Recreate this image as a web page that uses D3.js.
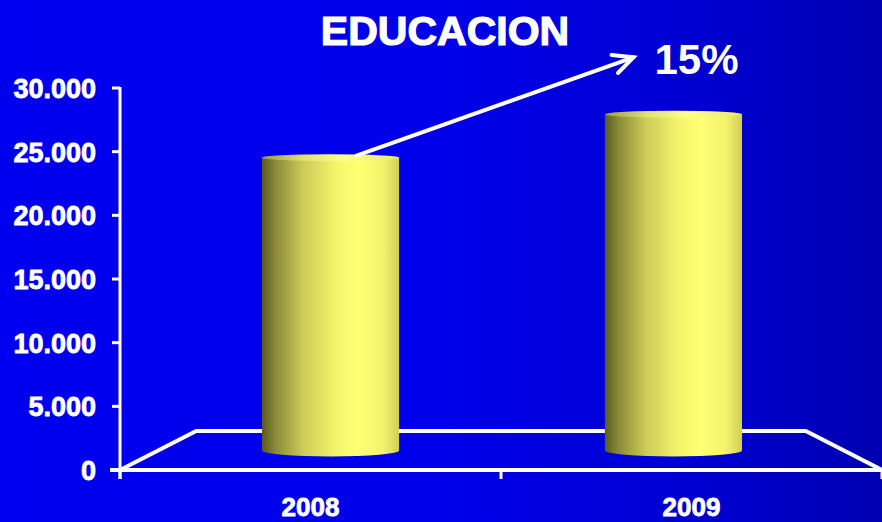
<!DOCTYPE html>
<html>
<head>
<meta charset="utf-8">
<script src="https://cdn.jsdelivr.net/npm/d3@7/dist/d3.min.js"></script>
<style>
  html, body { margin: 0; padding: 0; background: #0000e8; overflow: hidden; }
  svg { display: block; font-family: "Liberation Sans", Arial, sans-serif; }
</style>
</head>
<body>
<div id="chart"></div>
<script>
// Data
const years = ['2008', '2009'];
const values = [23000, 26400];
const yTicks = [0, 5000, 10000, 15000, 20000, 25000, 30000];
const title = 'EDUCACION';

const W = 882, H = 522;

// Layout of the pseudo-3D plot (front plane + receding floor)
const frontLeft = 120, frontRight = 882;
const yBottom = 470, yTop = 88;
const depth = 39;          // vertical offset of the back edge of the floor
const shrink = 0.8;        // back edge width relative to front edge
const barDepth = 0.5;      // bars stand halfway into the floor
const vpX = (frontLeft + frontRight) / 2;

const svg = d3.select('#chart').append('svg')
  .attr('width', W)
  .attr('height', H);

const defs = svg.append('defs');

// Background gradient (bright blue to slightly darker on the right)
const bg = defs.append('linearGradient')
  .attr('id', 'bg')
  .attr('x1', 0).attr('y1', 0).attr('x2', 1).attr('y2', 0);
[[0, '#0000f0'], [0.5, '#0000ea'], [0.8, '#0000d0'], [1, '#0000b0']].forEach(([o, c]) => {
  bg.append('stop').attr('offset', o).attr('stop-color', c);
});

// Cylinder shading
const cyl = defs.append('linearGradient')
  .attr('id', 'cyl')
  .attr('x1', 0).attr('y1', 0).attr('x2', 1).attr('y2', 0);
[[0, '#5a5a20'], [0.1, '#8a8a38'], [0.3, '#cccc58'], [0.55, '#f6f66c'],
 [0.7, '#ffff74'], [0.88, '#f4f46c'], [1, '#cfcf58']].forEach(([o, c]) => {
  cyl.append('stop').attr('offset', o).attr('stop-color', c);
});

const cylTop = defs.append('linearGradient')
  .attr('id', 'cylTop')
  .attr('x1', 0).attr('y1', 0).attr('x2', 1).attr('y2', 0);
[[0, '#9a9a48'], [0.3, '#e0e070'], [0.6, '#ffff88'], [1, '#e8e870']].forEach(([o, c]) => {
  cylTop.append('stop').attr('offset', o).attr('stop-color', c);
});

svg.append('rect')
  .attr('width', W)
  .attr('height', H)
  .attr('fill', 'url(#bg)');

// Scales
const x = d3.scaleBand()
  .domain(years)
  .range([frontLeft, frontRight])
  .paddingInner(0)
  .paddingOuter(0);

const y = d3.scaleLinear()
  .domain([0, 30000])
  .range([yBottom, yTop]);

const locale = d3.formatLocale({ decimal: ',', thousands: '.', grouping: [3], currency: ['', ''] });
const fmt = locale.format(',d');

// perspective helpers
const px = (xf, t) => vpX + (xf - vpX) * (1 - (1 - shrink) * t);
const dy = t => depth * t;

// Title
svg.append('text')
  .attr('x', 445)
  .attr('y', 45)
  .attr('text-anchor', 'middle')
  .attr('font-size', 41)
  .attr('font-weight', 'bold')
  .attr('fill', '#fff')
  .attr('stroke', '#fff')
  .attr('stroke-width', 1.2)
  .text(title);

// Floor outline
const floorG = svg.append('g')
  .attr('stroke', '#fff')
  .attr('stroke-width', 4)
  .attr('fill', 'none');

const backL = px(frontLeft, 1), backR = px(frontRight, 1);
floorG.append('path')
  .attr('stroke-linejoin', 'miter')
  .attr('d', d3.line()([
    [frontLeft, y(0)],
    [backL, y(0) - dy(1)],
    [backR, y(0) - dy(1)],
    [frontRight, y(0)]
  ]));
floorG.append('line')
  .attr('x1', frontLeft - 10).attr('x2', frontRight)
  .attr('y1', y(0)).attr('y2', y(0));

// Value axis (front plane)
const axisG = svg.append('g');
axisG.append('line')
  .attr('x1', frontLeft).attr('x2', frontLeft)
  .attr('y1', y(30000) - 1).attr('y2', y(0) + 9)
  .attr('stroke', '#fff')
  .attr('stroke-width', 3);

axisG.selectAll('line.tick')
  .data(yTicks)
  .join('line')
  .attr('class', 'tick')
  .attr('x1', frontLeft - 8).attr('x2', frontLeft)
  .attr('y1', d => y(d)).attr('y2', d => y(d))
  .attr('stroke', '#fff')
  .attr('stroke-width', 3);

axisG.selectAll('text')
  .data(yTicks)
  .join('text')
  .attr('x', 96)
  .attr('y', d => y(d) + 10)
  .attr('text-anchor', 'end')
  .attr('font-size', 27)
  .attr('font-weight', 'bold')
  .attr('fill', '#fff')
  .attr('stroke', '#fff')
  .attr('stroke-width', 0.8)
  .text(d => fmt(d));

// Category axis ticks and labels
const catTicks = [frontLeft, ...years.map(d => x(d) + x.bandwidth())];
svg.selectAll('line.xtick')
  .data(catTicks)
  .join('line')
  .attr('class', 'xtick')
  .attr('x1', d => d).attr('x2', d => d)
  .attr('y1', y(0)).attr('y2', y(0) + 9)
  .attr('stroke', '#fff')
  .attr('stroke-width', 3);

svg.selectAll('text.xlab')
  .data(years)
  .join('text')
  .attr('class', 'xlab')
  .attr('x', d => x(d) + x.bandwidth() / 2)
  .attr('y', 516)
  .attr('text-anchor', 'middle')
  .attr('font-size', 26)
  .attr('font-weight', 'bold')
  .attr('fill', '#fff')
  .attr('stroke', '#fff')
  .attr('stroke-width', 0.8)
  .text(d => d);

// Cylinders
const barFrac = 0.40;
const ryBottom = 6, ryTop = 3.5;
const bars = years.map((d, i) => {
  const cx = px(x(d) + x.bandwidth() / 2, barDepth) + 1;
  const rx = x.bandwidth() * barFrac * (1 - (1 - shrink) * barDepth) / 2;
  const yb = y(0) - dy(barDepth);
  const yt = y(values[i]) - dy(barDepth);
  return { year: d, value: values[i], cx, rx, yb, yt };
});

const barG = svg.selectAll('g.bar')
  .data(bars)
  .join('g')
  .attr('class', 'bar');

barG.append('ellipse')
  .attr('cx', d => d.cx)
  .attr('cy', d => d.yb)
  .attr('rx', d => d.rx)
  .attr('ry', ryBottom)
  .attr('fill', 'url(#cyl)');

barG.append('rect')
  .attr('x', d => d.cx - d.rx)
  .attr('y', d => d.yt)
  .attr('width', d => d.rx * 2)
  .attr('height', d => d.yb - d.yt)
  .attr('fill', 'url(#cyl)');

barG.append('ellipse')
  .attr('cx', d => d.cx)
  .attr('cy', d => d.yt)
  .attr('rx', d => d.rx)
  .attr('ry', ryTop)
  .attr('fill', 'url(#cylTop)');

// Growth arrow and label
const growth = Math.round((values[1] / values[0] - 1) * 100);
const a0 = [bars[0].cx + 26, bars[0].yt - 2];
const a1 = [bars[1].cx - 40, bars[1].yt - 57];
const ang = Math.atan2(a1[1] - a0[1], a1[0] - a0[0]);
const head = 22, spread = 0.45;

const arrowG = svg.append('g')
  .attr('stroke', '#fff')
  .attr('stroke-width', 4)
  .attr('stroke-linecap', 'round')
  .attr('fill', 'none');

arrowG.append('line')
  .attr('x1', a0[0]).attr('y1', a0[1])
  .attr('x2', a1[0]).attr('y2', a1[1]);

arrowG.append('path')
  .attr('stroke-linejoin', 'miter')
  .attr('d', d3.line()([
    [a1[0] - head * Math.cos(ang - spread), a1[1] - head * Math.sin(ang - spread)],
    a1,
    [a1[0] - head * Math.cos(ang + spread), a1[1] - head * Math.sin(ang + spread)]
  ]));

svg.append('text')
  .attr('x', a1[0] + 21)
  .attr('y', 74)
  .attr('font-size', 42)
  .attr('font-weight', 'bold')
  .attr('fill', '#fff')
  .text(growth + '%');
</script>
</body>
</html>
